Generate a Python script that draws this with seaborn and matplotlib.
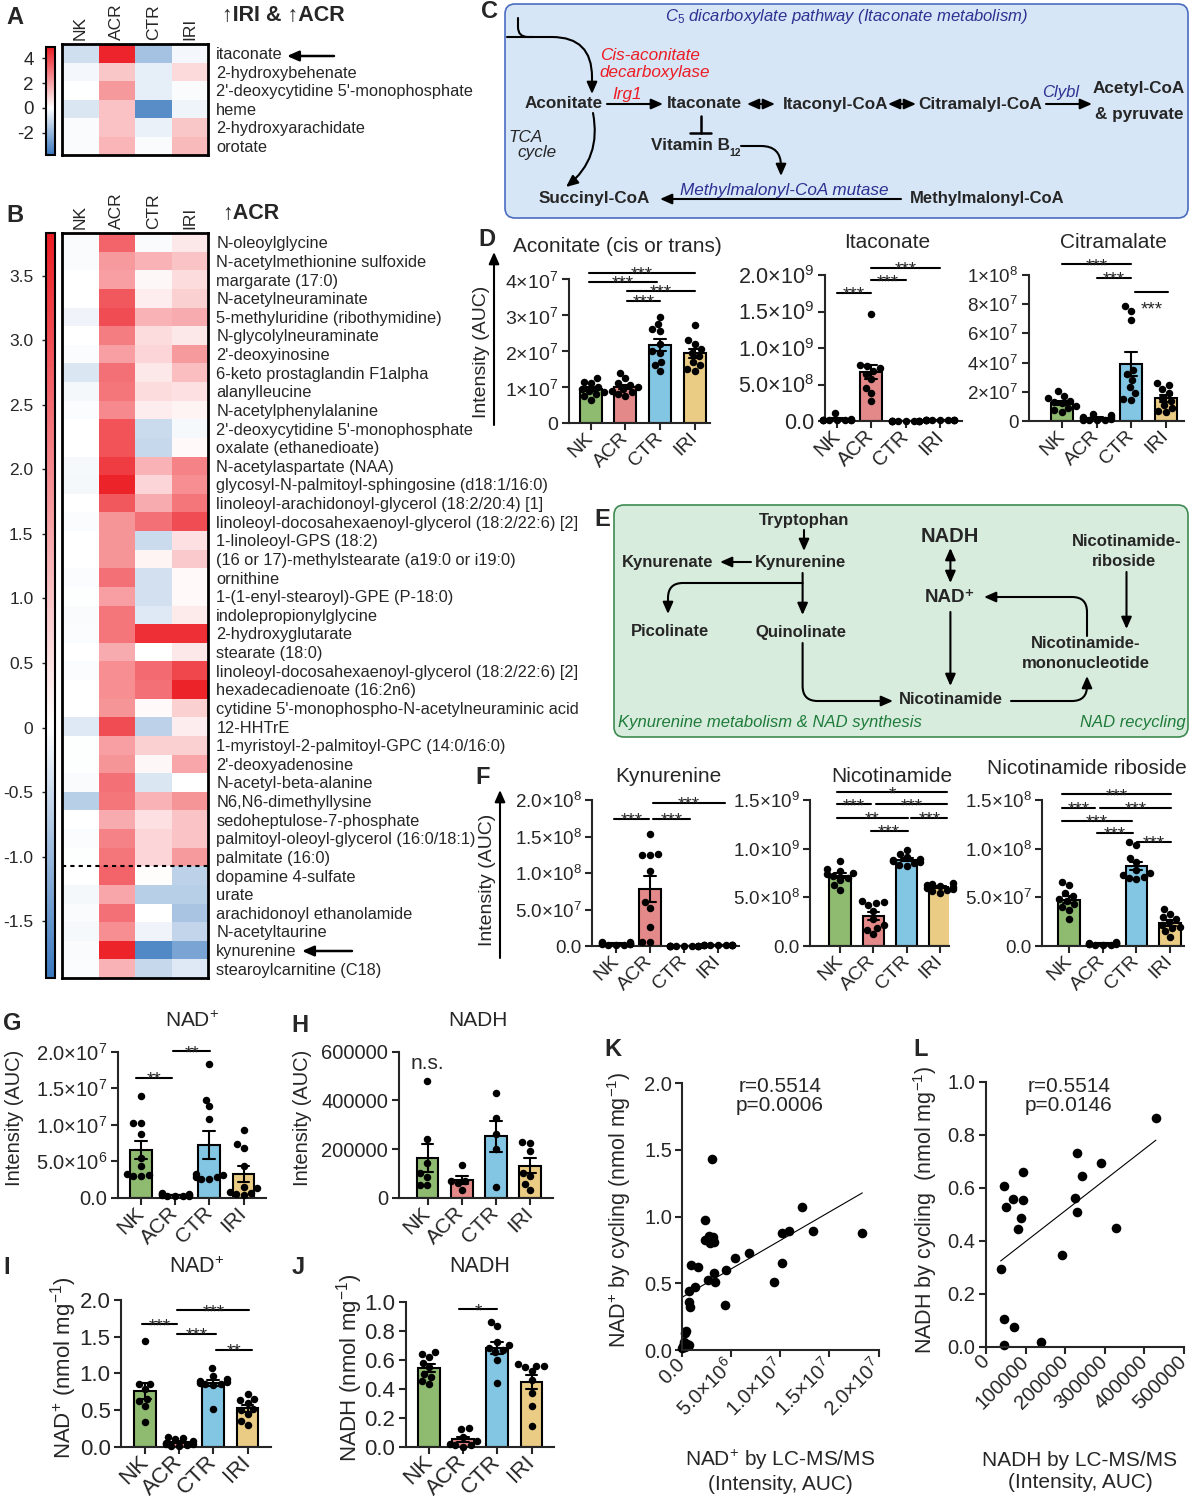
import numpy as np
import pandas as pd
import matplotlib
matplotlib.use('Agg')
import matplotlib.pyplot as plt
import seaborn as sns
from matplotlib.colors import LinearSegmentedColormap
from matplotlib.patches import FancyBboxPatch, FancyArrowPatch

# ---------------- data ----------------
groups = ['NK', 'ACR', 'CTR', 'IRI']
group_colors = ['#8CC765', '#F37A7A', '#72CCF3', '#FCD374']

a_metabolites = ['itaconate', '2-hydroxybehenate', "2'-deoxycytidine 5'-monophosphate",
                 'heme', '2-hydroxyarachidate', 'orotate']
a_values = [[-0.9, 4.7, -1.7, -0.2],
            [-0.2, 1.2, -0.5, 0.8],
            [0.0, 2.2, -0.5, -0.1],
            [-0.7, 1.3, -3.2, -0.3],
            [-0.1, 1.3, -0.4, 1.2],
            [-0.1, 1.6, -0.1, 1.5]]

b_metabolites = ['N-oleoylglycine', 'N-acetylmethionine sulfoxide', 'margarate (17:0)',
                 'N-acetylneuraminate', '5-methyluridine (ribothymidine)', 'N-glycolylneuraminate',
                 "2'-deoxyinosine", '6-keto prostaglandin F1alpha', 'alanylleucine',
                 'N-acetylphenylalanine', "2'-deoxycytidine 5'-monophosphate", 'oxalate (ethanedioate)',
                 'N-acetylaspartate (NAA)', 'glycosyl-N-palmitoyl-sphingosine (d18:1/16:0)',
                 'linoleoyl-arachidonoyl-glycerol (18:2/20:4) [1]',
                 'linoleoyl-docosahexaenoyl-glycerol (18:2/22:6) [2]', '1-linoleoyl-GPS (18:2)',
                 '(16 or 17)-methylstearate (a19:0 or i19:0)', 'ornithine',
                 '1-(1-enyl-stearoyl)-GPE (P-18:0)', 'indolepropionylglycine', '2-hydroxyglutarate',
                 'stearate (18:0)', 'linoleoyl-docosahexaenoyl-glycerol (18:2/22:6) [2]',
                 'hexadecadienoate (16:2n6)', "cytidine 5'-monophospho-N-acetylneuraminic acid",
                 '12-HHTrE', '1-myristoyl-2-palmitoyl-GPC (14:0/16:0)', "2'-deoxyadenosine",
                 'N-acetyl-beta-alanine', 'N6,N6-dimethyllysine', 'sedoheptulose-7-phosphate',
                 'palmitoyl-oleoyl-glycerol (16:0/18:1)', 'palmitate (16:0)', 'dopamine 4-sulfate',
                 'urate', 'arachidonoyl ethanolamide', 'N-acetyltaurine', 'kynurenine',
                 'stearoylcarnitine (C18)']
b_values = [[-0.05, 2.6, -0.05, 0.4], [-0.05, 1.7, 1.3, 1.0], [0.0, 1.6, 0.15, 0.6],
            [0.0, 2.8, 0.3, 0.8], [-0.15, 3.0, 1.3, 1.4], [0.0, 2.2, 0.6, 0.4],
            [-0.03, 1.6, 0.7, 1.7], [-0.35, 2.4, 0.4, 1.1], [-0.1, 2.3, 0.6, 0.5],
            [-0.03, 2.0, 0.3, 0.2], [0.0, 2.9, -0.5, -0.08], [0.0, 2.9, -0.55, 0.1],
            [-0.07, 3.3, 1.3, 2.1], [-0.1, 3.7, 0.7, 1.9], [0.0, 2.8, 1.4, 2.3],
            [-0.03, 1.8, 2.4, 3.0], [0.0, 1.8, -0.5, 0.5], [0.0, 1.8, 0.2, 0.9],
            [-0.03, 2.4, -0.45, 0.1], [-0.02, 1.6, -0.45, 0.1], [-0.05, 2.3, -0.3, 0.35],
            [-0.03, 2.3, 3.5, 3.5], [0.0, 1.4, 0.0, 0.4], [-0.03, 1.9, 2.5, 3.1],
            [0.0, 1.9, 2.4, 3.7], [0.0, 1.8, 0.1, 0.8], [-0.3, 3.0, -0.65, 0.3],
            [-0.02, 1.6, 0.8, 0.8], [-0.02, 1.8, 0.15, 1.5], [-0.05, 2.4, -0.35, 0.0],
            [-0.7, 2.3, 1.3, 1.8], [0.0, 1.4, 0.5, 1.0], [-0.03, 2.1, 0.7, 1.0],
            [-0.02, 2.3, 0.7, 1.7], [0.0, 2.6, 0.05, -0.65], [-0.1, 1.5, -0.7, -0.7],
            [-0.05, 2.4, 0.0, -0.85], [-0.07, 1.9, -0.15, -0.6], [-0.05, 3.7, -1.7, -1.3],
            [-0.03, 1.3, -0.55, -0.3]]

# bar panels: one list per group (NK, ACR, CTR, IRI)
aconitate = [[1.25, 1.15, 1.1, 1.0, 0.95, 0.9, 0.85, 0.8, 0.75, 0.65],        # x1e7
             [1.4, 1.25, 1.1, 1.05, 1.0, 0.95, 0.9, 0.85, 0.8, 0.75],
             [2.95, 2.75, 2.6, 2.55, 2.2, 2.0, 1.95, 1.7, 1.6, 1.45],
             [2.72, 2.3, 2.2, 2.05, 1.95, 1.85, 1.7, 1.6, 1.45, 1.5]]
itaconate = [[0.11, 0.03, 0.02, 0.02, 0.015, 0.01, 0.01, 0.01, 0.02, 0.01],   # x1e9
             [1.46, 0.77, 0.75, 0.72, 0.68, 0.65, 0.58, 0.45, 0.38, 0.27],
             [0.006, 0.005, 0.005, 0.004, 0.004, 0.005, 0.006, 0.004, 0.005, 0.005],
             [0.012, 0.01, 0.011, 0.009, 0.01, 0.012, 0.01, 0.009, 0.011, 0.01]]
citramalate = [[2.05, 1.7, 1.55, 1.4, 1.3, 1.2, 1.05, 0.9, 0.75, 0.6],        # x1e7
               [0.5, 0.4, 0.3, 0.25, 0.2, 0.15, 0.1, 0.1, 0.05, 0.05],
               [7.85, 7.55, 6.95, 3.5, 3.2, 2.8, 2.3, 1.9, 1.5, 1.45],
               [2.6, 2.5, 2.2, 1.9, 1.6, 1.4, 1.1, 0.9, 0.7, 0.6]]
kynurenine = [[0.6, 0.5, 0.4, 0.35, 0.3, 0.3, 0.25, 0.2, 0.2, 0.15],         # x1e7
              [15.4, 12.5, 12.4, 12.6, 10.3, 6.0, 5.2, 2.6, 0.6, 0.5],
              [0.06, 0.05, 0.05, 0.04, 0.05, 0.06, 0.04, 0.05, 0.05, 0.05],
              [0.12, 0.1, 0.1, 0.09, 0.11, 0.1, 0.12, 0.1, 0.09, 0.1]]
nicotinamide = [[8.7, 7.9, 7.7, 7.5, 7.4, 7.2, 7.0, 6.8, 6.3, 5.8],          # x1e8
                [4.6, 4.5, 4.4, 4.2, 3.6, 2.8, 2.2, 1.9, 1.6, 1.2],
                [9.9, 9.5, 9.1, 8.9, 8.8, 8.7, 8.6, 8.5, 8.3, 8.2],
                [6.5, 6.4, 6.3, 6.2, 6.1, 6.0, 5.9, 5.8, 5.6, 5.4]]
nic_riboside = [[6.6, 6.3, 5.4, 5.1, 4.8, 4.6, 4.3, 4.0, 3.7, 2.8],         # x1e7
                [0.4, 0.35, 0.3, 0.3, 0.25, 0.2, 0.2, 0.15, 0.1, 0.1],
                [10.7, 10.4, 9.0, 8.6, 7.8, 7.5, 7.3, 7.1, 7.0, 6.9],
                [3.8, 3.3, 3.0, 2.8, 2.5, 2.2, 2.0, 1.8, 1.5, 0.9]]
nad_auc = [[14.0, 10.2, 10.2, 8.7, 5.5, 4.3, 3.2, 3.1, 3.0, 3.0],           # x1e6
           [0.6, 0.5, 0.45, 0.4, 0.35, 0.3, 0.3, 0.25, 0.2],
           [18.3, 13.4, 12.5, 10.8, 3.2, 3.1, 2.9, 2.8, 2.6, 2.5],
           [9.27, 7.3, 6.76, 4.38, 1.5, 1.3, 0.8, 0.6, 0.5, 0.4]]
nadh_auc = [[481000, 240000, 141000, 100000, 86000, 52000, 52000],
            [134000, 70000, 70000, 59000, 31500],
            [429000, 329000, 260000, 198600, 45000],
            [227000, 225000, 190000, 100000, 90000, 55000, 30000]]
nad_cycling = [[1.44, 0.86, 0.85, 0.78, 0.65, 0.62, 0.55, 0.33],
               [0.13, 0.12, 0.1, 0.08, 0.05, 0.04, 0.03, 0.02, 0.01, 0.01],
               [1.07, 0.97, 0.92, 0.9, 0.88, 0.87, 0.86, 0.85, 0.84, 0.52],
               [0.72, 0.65, 0.63, 0.6, 0.52, 0.5, 0.45, 0.35, 0.3]]
nadh_cycling = [[0.65, 0.64, 0.62, 0.58, 0.55, 0.5, 0.48, 0.45, 0.43],
                [0.13, 0.12, 0.07, 0.04, 0.02, 0.01, 0.01, 0.0],
                [0.86, 0.83, 0.72, 0.7, 0.68, 0.67, 0.65, 0.6, 0.44],
                [0.57, 0.56, 0.56, 0.55, 0.52, 0.46, 0.37, 0.28, 0.14]]

# correlations
k_lcms = [2.98, 2.35, 2.27, 2.6, 2.75, 2.82, 3.2, 3.14, 0.86, 1.65, 1.25, 0.7, 0.7, 0.78,
          2.67, 3.22, 3.37, 4.4, 4.47, 5.4, 6.75, 9.33, 10.2, 10.2, 10.9, 12.2, 13.3, 18.35,
          0.39, 0.31, 0.2, 0.08, 0.47, 0.7, 0.0, 0.24]                          # x1e6
k_cycling = [1.43, 0.975, 0.825, 0.825, 0.855, 0.80, 0.81, 0.85, 0.64, 0.62, 0.47, 0.44, 0.36,
             0.325, 0.525, 0.58, 0.51, 0.34, 0.60, 0.69, 0.725, 0.51, 0.875, 0.655, 0.89, 1.07,
             0.895, 0.875, 0.145, 0.125, 0.06, 0.03, 0.045, 0.04, 0.012, 0.025]
l_lcms = [36900, 46600, 50500, 68000, 92200, 92200, 89300, 80600, 46600, 71800, 45600,
          137900, 192200, 225200, 231000, 231000, 242700, 289300, 328200, 429100]
l_cycling = [0.294, 0.607, 0.526, 0.556, 0.66, 0.553, 0.487, 0.445, 0.106, 0.073, 0.006,
             0.018, 0.346, 0.56, 0.51, 0.732, 0.644, 0.694, 0.449, 0.864]

# ---------------- style ----------------
sns.set_style('ticks')
plt.rcParams['font.family'] = ['Liberation Sans', 'DejaVu Sans']
plt.rcParams['mathtext.fontset'] = 'custom'
plt.rcParams['mathtext.rm'] = 'Liberation Sans'
plt.rcParams['mathtext.it'] = 'Liberation Sans:italic'
plt.rcParams['mathtext.bf'] = 'Liberation Sans:bold'
plt.rcParams['mathtext.default'] = 'regular'
plt.rcParams['axes.linewidth'] = 1.5

W, H = 1191, 1500
fig = plt.figure(figsize=(W / 100, H / 100), dpi=100)


def add_px(x0, y0, x1, y1):
    return fig.add_axes([x0 / W, 1 - y1 / H, (x1 - x0) / W, (y1 - y0) / H])


ov = fig.add_axes([0, 0, 1, 1])
ov.set_xlim(0, W)
ov.set_ylim(H, 0)
ov.axis('off')


def txt(x, y, s, fs=12.3, **kw):
    kw.setdefault('ha', 'center')
    kw.setdefault('va', 'center')
    ov.text(x, y, s, fontsize=fs, **kw)


def arrow(p0, p1, style='-|>', cs=None, lw=1.5):
    if style == '-|>':
        style = '-|>,head_length=0.5,head_width=0.22'
    elif style == '<|-|>':
        style = '<|-|>,head_length=0.5,head_width=0.22'
    kw = dict(arrowstyle=style, mutation_scale=14, lw=lw, color='k',
              shrinkA=0, shrinkB=0)
    if cs:
        kw['connectionstyle'] = cs
    ov.add_patch(FancyArrowPatch(p0, p1, **kw))


def sci(m, e):
    return r'$%s{\times}10^{%d}$' % (m, e)


# ---------------- heatmaps ----------------
def heat(box, cbox, values, rows, vmin, vmax, ticks, tick_labels, tick_fs):
    frac = -vmin / (vmax - vmin)
    cmap = LinearSegmentedColormap.from_list(
        'bw', [(0, '#3A78BE'), (frac, '#FFFFFF'), (1, '#EC1C24')])
    ax = add_px(*box)
    cax = add_px(*cbox)
    df = pd.DataFrame(values, index=rows, columns=groups)
    sns.heatmap(df, ax=ax, cbar_ax=cax, cmap=cmap, vmin=vmin, vmax=vmax,
                xticklabels=True, yticklabels=True)
    ax.yaxis.tick_right()
    ax.set_yticklabels(rows, rotation=0, fontsize=11.8)
    ax.tick_params(axis='y', length=0, pad=6)
    ax.xaxis.tick_top()
    ax.set_xticklabels(groups, rotation=90, fontsize=12.5)
    ax.tick_params(axis='x', length=0, pad=3)
    ax.set_xlabel('')
    ax.set_ylabel('')
    for s in ax.spines.values():
        s.set_visible(True)
        s.set_linewidth(2)
        s.set_color('k')
    cbar = ax.collections[0].colorbar
    cbar.outline.set_linewidth(1.5)
    cbar.outline.set_edgecolor('k')
    cax.yaxis.set_ticks_position('left')
    cax.set_yticks(ticks)
    cax.set_yticklabels(tick_labels)
    cax.tick_params(labelsize=tick_fs, length=3, width=1, pad=6)
    return ax


axa = heat((62, 44, 208, 155), (46, 47, 55, 155), a_values, a_metabolites,
           -3.8, 4.9, [4, 2, 0, -2], ['4', '2', '0', '-2'], 13.5)
b_ticks = [3.5, 3.0, 2.5, 2.0, 1.5, 1.0, 0.5, 0, -0.5, -1.0, -1.5]
axb = heat((62, 233, 208, 978), (46, 233, 55, 978), b_values, b_metabolites,
           -1.94, 3.83, b_ticks, ['%g' % t if t == 0 else '%.1f' % t for t in b_ticks], 12.5)
axb.axhline(34, color='k', lw=1.5, ls=(0, (2, 2)))

txt(222, 16, '↑IRI & ↑ACR', fs=15.5, weight='bold', ha='left')
txt(222, 214, '↑ACR', fs=15.5, weight='bold', ha='left')
arrow((334, 56), (287, 56), lw=1.8)
arrow((352, 951), (302, 951), lw=1.8)


# ---------------- bar panels ----------------
def bar_panel(box, vals, ytop, yticks, ylabels, sigs=(), fs=13, xfs=None):
    left, right, x_nk, x_iri, bottom, top = box
    ax = add_px(left, top, right, bottom)
    df = pd.DataFrame({'group': [g for g, v in zip(groups, vals) for _ in v],
                       'value': [x for v in vals for x in v]})
    sns.barplot(data=df, x='group', y='value', hue='group', order=groups, hue_order=groups,
                palette=group_colors, errorbar='se', capsize=0.35, width=0.64,
                edgecolor='k', linewidth=1.5, err_kws={'color': 'k', 'linewidth': 1.5},
                legend=False, ax=ax)
    sns.swarmplot(data=df, x='group', y='value', order=groups, color='k', size=5.4,
                  ax=ax, warn_thresh=1)
    for c in ax.collections:
        c.set_clip_on(False)
    step = (x_iri - x_nk) / 3
    ax.set_xlim(-(x_nk - left) / step, 3 + (right - x_iri) / step)
    ax.set_ylim(0, ytop)
    ax.set_yticks(yticks)
    ax.set_yticklabels(ylabels)
    ax.set_xticks(range(4))
    ax.set_xticklabels(groups, rotation=45, ha='right', va='center', rotation_mode='anchor')
    ax.tick_params(width=1.5, length=5)
    ax.tick_params(axis='y', labelsize=fs, pad=2.5)
    ax.tick_params(axis='x', labelsize=xfs or fs, pad=4)
    ax.set_xlabel('')
    ax.set_ylabel('')
    ax.patch.set_alpha(0)
    sns.despine(ax=ax)
    for x1, x2, y, lab in sigs:
        ax.plot([x1, x2], [y, y], color='k', lw=1.5, clip_on=False)
        if lab:
            ax.annotate(lab, ((x1 + x2) / 2, y), xytext=(0, -5), textcoords='offset points',
                        ha='center', va='baseline', fontsize=13.5, annotation_clip=False)
    return ax


bar_panel((568.6, 710, 590.7, 694.7, 423, 279), aconitate, 4, [0, 1, 2, 3, 4],
          ['0', sci(1, 7), sci(2, 7), sci(3, 7), sci(4, 7)],
          [(-0.06, 3.0, 4.18, '***'), (-0.06, 1.92, 3.93, '***'),
           (1.06, 3.0, 3.67, '***'), (1.06, 2.0, 3.40, '***')], fs=14, xfs=14)
bar_panel((825, 962, 837, 940, 421, 275), itaconate, 2, [0, 0.5, 1, 1.5, 2],
          ['0.0', sci('5.0', 8), sci('1.0', 9), sci('1.5', 9), sci('2.0', 9)],
          [(0, 0.98, 1.76, '***'), (0.98, 2.0, 1.93, '***'), (0.98, 3.0, 2.1, '***')],
          fs=15.5, xfs=14.5)
axc = bar_panel((1029, 1184, 1062, 1166, 421, 275), citramalate, 10, [0, 2, 4, 6, 8, 10],
                ['0', sci(2, 7), sci(4, 7), sci(6, 7), sci(8, 7), sci(1, 8)],
                [(0, 1.98, 10.73, '***'), (1.0, 1.98, 9.82, '***'), (2.1, 3.07, 8.86, '')],
                fs=13.5, xfs=14)
axc.text(2.58, 7.6, '***', fontsize=13.5, ha='center', va='center')

bar_panel((592, 739, 616, 718, 946, 800), kynurenine, 20, [0, 5, 10, 15, 20],
          ['0.0', sci('5.0', 7), sci('1.0', 8), sci('1.5', 8), sci('2.0', 8)],
          [(-0.05, 0.96, 17.44, '***'), (1.08, 2.19, 17.44, '***'), (1.08, 3.2, 19.63, '***')],
          fs=13.5, xfs=14)
bar_panel((810, 949, 840, 940, 946, 800), nicotinamide, 15, [0, 5, 10, 15],
          ['0.0', sci('5.0', 8), sci('1.0', 9), sci('1.5', 9)],
          [(-0.1, 3.22, 15.8, '*'), (-0.1, 0.92, 14.56, '***'), (1.08, 3.22, 14.56, '***'),
           (-0.1, 2.03, 13.18, '**'), (2.14, 3.22, 13.18, '***'), (0.92, 2.03, 11.84, '***')],
          fs=13.5, xfs=14)
bar_panel((1042, 1184, 1069, 1170, 946, 800), nic_riboside, 15, [0, 5, 10, 15],
          ['0.0', sci('5.0', 7), sci('1.0', 8), sci('1.5', 8)],
          [(-0.22, 3.04, 15.59, '***'), (-0.22, 0.78, 14.2, '***'), (0.91, 3.04, 14.2, '***'),
           (-0.22, 1.86, 12.87, '***'), (0.82, 1.89, 11.64, '***'), (2.02, 3.04, 10.71, '***')],
          fs=13.5, xfs=14)

bar_panel((117.8, 266, 141, 243.5, 1197.7, 1051.7), nad_auc, 20, [0, 5, 10, 15, 20],
          ['0.0', sci('5.0', 6), sci('1.0', 7), sci('1.5', 7), sci('2.0', 7)],
          [(-0.16, 0.9, 16.44, '**'), (0.94, 2.02, 20.09, '**')], fs=14.5, xfs=15)
axh = bar_panel((398.5, 552.5, 427.5, 530, 1197.7, 1051.7), nadh_auc, 600000,
                [0, 200000, 400000, 600000], ['0', '200000', '400000', '600000'],
                fs=14.5, xfs=15)
axh.text(0, 552000, 'n.s.', fontsize=15, ha='center', va='center')
bar_panel((121, 271, 145, 247.5, 1446.7, 1300), nad_cycling, 2, [0, 0.5, 1, 1.5, 2],
          ['0.0', '0.5', '1.0', '1.5', '2.0'],
          [(-0.1, 0.95, 1.67, '***'), (0.95, 3.05, 1.86, '***'),
           (0.95, 2.07, 1.54, '***'), (2.07, 3.13, 1.32, '**')], fs=16, xfs=16)
bar_panel((405.8, 554, 429, 531.5, 1446.7, 1301.7), nadh_cycling, 1,
          [0, 0.2, 0.4, 0.6, 0.8, 1.0], ['0.0', '0.2', '0.4', '0.6', '0.8', '1.0'],
          [(0.88, 1.99, 0.947, '*')], fs=16, xfs=16)


# ---------------- correlations ----------------
def corr_panel(box, x, y, xlim, ylim, xticks, xlabels, yticks, ylabels):
    ax = add_px(*box)
    sns.regplot(x=x, y=y, ci=None, truncate=True, ax=ax,
                scatter_kws={'s': 48, 'color': 'k', 'linewidths': 0, 'clip_on': False, 'alpha': 1},
                line_kws={'color': 'k', 'lw': 0.8})
    ax.set_xlim(*xlim)
    ax.set_ylim(*ylim)
    ax.set_xticks(xticks)
    ax.set_xticklabels(xlabels, rotation=45, ha='right', va='center', rotation_mode='anchor')
    ax.set_yticks(yticks)
    ax.set_yticklabels(ylabels)
    ax.tick_params(labelsize=14.5, width=1.5, length=5)
    ax.tick_params(axis='y', pad=2.5)
    ax.set_xlabel('')
    ax.set_ylabel('')
    ax.patch.set_alpha(0)
    sns.despine(ax=ax)
    return ax


corr_panel((682.3, 1083.3, 878.5, 1350), k_lcms, k_cycling, (0, 20), (0, 2),
           [0, 5, 10, 15, 20], ['0.0', sci('5.0', 6), sci('1.0', 7), sci('1.5', 7), sci('2.0', 7)],
           [0, 0.5, 1, 1.5, 2], ['0.0', '0.5', '1.0', '1.5', '2.0'])
corr_panel((986, 1081.7, 1184, 1346.7), l_lcms, l_cycling, (0, 500000), (0, 1),
           [0, 100000, 200000, 300000, 400000, 500000],
           ['0', '100000', '200000', '300000', '400000', '500000'],
           [0, 0.2, 0.4, 0.6, 0.8, 1.0], ['0.0', '0.2', '0.4', '0.6', '0.8', '1.0'])

# ---------------- titles, axis labels, panel letters ----------------
txt(617, 246, 'Aconitate (cis or trans)', fs=15)
txt(887, 243, 'Itaconate', fs=15)
txt(1113, 243, 'Citramalate', fs=15)
txt(668, 776, 'Kynurenine', fs=15)
txt(892, 776, 'Nicotinamide', fs=15)
txt(1087, 769, 'Nicotinamide riboside', fs=15)
txt(192, 1021, 'NAD$^{+}$', fs=15)
txt(478, 1021, 'NADH', fs=15)
txt(197, 1267, 'NAD$^{+}$', fs=15.5)
txt(480, 1267, 'NADH', fs=15.5)

txt(481, 352, 'Intensity (AUC)', fs=14, rotation=90)
arrow((494, 425), (494, 252))
txt(487, 880, 'Intensity (AUC)', fs=14, rotation=90)
arrow((500, 958), (500, 790))
txt(15, 1118, 'Intensity (AUC)', fs=14.5, rotation=90)
txt(302, 1118, 'Intensity (AUC)', fs=14.5, rotation=90)
txt(64, 1368, 'NAD$^{+}$ (nmol mg$^{-1}$)', fs=16, rotation=90)
txt(350, 1368, 'NADH (nmol mg$^{-1}$)', fs=16, rotation=90)
txt(619, 1210, 'NAD$^{+}$ by cycling (nmol mg$^{-1}$)', fs=15.5, rotation=90)
txt(925, 1210, 'NADH by cycling  (nmol mg$^{-1}$)', fs=15.5, rotation=90)
txt(780, 1471, 'NAD$^{+}$ by LC-MS/MS\n(Intensity, AUC)', fs=15, linespacing=1.2)
txt(1080, 1471, 'NADH by LC-MS/MS\n(Intensity, AUC)', fs=15, linespacing=1.2)
txt(780, 1096, 'r=0.5514\np=0.0006', fs=15, linespacing=1.05)
txt(1069, 1096, 'r=0.5514\np=0.0146', fs=15, linespacing=1.05)

for lab, x, y in [('A', 15, 17), ('B', 15, 215), ('C', 489, 12), ('D', 487, 240),
                  ('E', 602, 519), ('F', 483, 777), ('G', 12, 1024), ('H', 300, 1025),
                  ('I', 7, 1268), ('J', 298, 1268), ('K', 613, 1050), ('L', 921, 1050)]:
    txt(x, y, lab, fs=17, weight='bold')

# ---------------- pathway C ----------------
ov.add_patch(FancyBboxPatch((505, 4), 683, 214, boxstyle='round,pad=0,rounding_size=10',
                            fc='#D6E6F6', ec='#4B6CC0', lw=1.2))
blue_t, red_t = '#2E3192', '#ED1C24'
txt(846, 16, r'C$_{\mathit{5}}$ dicarboxylate pathway (Itaconate metabolism)', fs=12,
    style='italic', color=blue_t)
txt(650, 55, 'Cis-aconitate', fs=12.3, style='italic', color=red_t)
txt(655, 72, 'decarboxylase', fs=12.3, style='italic', color=red_t)
txt(627, 95, 'Irg1', fs=12.3, style='italic', color=red_t)
txt(1061, 93, 'Clybl', fs=12, style='italic', color=blue_t)
txt(784, 190, 'Methylmalonyl-CoA mutase', fs=12.3, style='italic', color=blue_t)
txt(526, 137, 'TCA', fs=12.3, style='italic')
txt(537, 152, 'cycle', fs=12.3, style='italic')
for s, x, y in [('Aconitate', 564, 104), ('Itaconate', 704, 104), ('Itaconyl-CoA', 836, 104),
                ('Citramalyl-CoA', 980, 104), ('Acetyl-CoA', 1139, 89),
                ('& pyruvate', 1139, 115), ('Succinyl-CoA', 594, 198)]:
    txt(x, y, s, fs=12.3, weight='bold')
txt(987, 199, 'Methylmalonyl-CoA', fs=12, weight='bold')
txt(730, 146, 'Vitamin B', fs=12.3, weight='bold', ha='right')
txt(729, 153, '12', fs=7.5, weight='bold', ha='left')
ov.plot([507, 533], [37, 37], color='k', lw=1.5)
arrow((518, 18), (533, 37), style='-', cs='angle,angleA=90,angleB=0,rad=10')
arrow((533, 37), (592, 94), cs='angle,angleA=0,angleB=90,rad=40')
arrow((593, 113), (566, 187), cs='arc3,rad=-0.3')
arrow((607, 104), (663, 104))
arrow((747, 104), (775, 104), style='<|-|>')
arrow((888, 104), (916, 104), style='<|-|>')
arrow((1046, 104), (1092, 104))
arrow((901, 199), (660, 199))
ov.plot([701, 701], [116, 133], color='k', lw=1.8)
ov.plot([690, 711], [133, 133], color='k', lw=1.8)
arrow((741, 146), (781, 176), cs='angle,angleA=0,angleB=90,rad=20')

# ---------------- pathway E ----------------
ov.add_patch(FancyBboxPatch((614, 505), 574, 232, boxstyle='round,pad=0,rounding_size=10',
                            fc='#D8ECDD', ec='#3E8B52', lw=1.2))
green_t = '#1E7B3A'
for s, x, y in [('Tryptophan', 804, 520), ('Kynurenine', 801, 562), ('Kynurenate', 668, 562),
                ('Picolinate', 670, 632), ('Quinolinate', 801, 632), ('Nicotinamide', 951, 700),
                ('Nicotinamide-', 1127, 541), ('riboside', 1124, 561),
                ('Nicotinamide-', 1086, 643), ('mononucleotide', 1086, 663)]:
    txt(x, y, s, fs=12, weight='bold')
txt(950, 537, 'NADH', fs=14.5, weight='bold')
txt(950, 598, 'NAD⁺', fs=13.5, weight='bold')
txt(618, 723, 'Kynurenine metabolism & NAD synthesis', fs=12, style='italic', color=green_t,
    ha='left')
txt(1186, 723, 'NAD recycling', fs=12, style='italic', color=green_t, ha='right')
arrow((804, 530), (804, 551))
arrow((751, 562), (720, 562))
arrow((802.6, 573), (802.6, 615))
arrow((802.6, 583), (668, 614), cs='angle,angleA=0,angleB=90,rad=15')
arrow((802.6, 643), (893, 701), cs='angle,angleA=90,angleB=0,rad=15')
arrow((950.4, 548), (950.4, 583), style='<|-|>')
arrow((950.4, 612), (950.4, 686))
arrow((1126.5, 572), (1126.5, 629))
arrow((1011, 701), (1087, 676), cs='angle,angleA=0,angleB=90,rad=15')
arrow((1087, 636), (984, 597), cs='angle,angleA=90,angleB=0,rad=15')

fig.savefig('out.png', dpi=100)
